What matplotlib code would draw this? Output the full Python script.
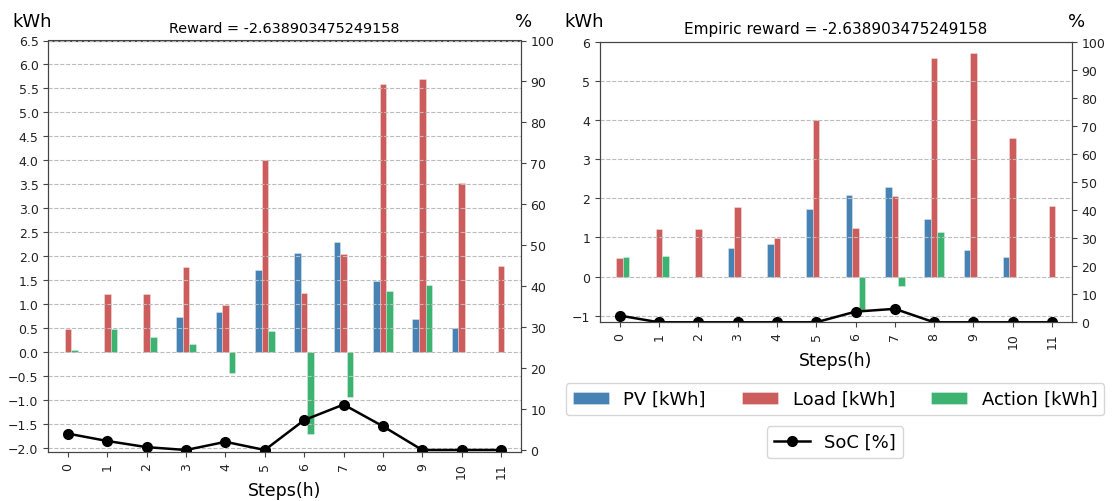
import numpy as np
import matplotlib.pyplot as plt

# data
steps = np.arange(12)
pv = [0, 0, 0, 0.73, 0.84, 1.72, 2.08, 2.30, 1.48, 0.69, 0.51, 0]
load = [0.48, 1.21, 1.22, 1.78, 0.99, 4.00, 1.23, 2.05, 5.59, 5.70, 3.54, 1.81]
action_left = [0.05, 0.48, 0.33, 0.17, -0.43, 0.44, -1.70, -0.92, 1.27, 1.41, 0, 0]
soc_left = [4.0, 2.2, 0.7, 0.0, 2.0, 0.0, 7.3, 11.1, 5.8, 0, 0, 0]
action_right = [0.49, 0.52, 0, 0, 0, 0, -0.85, -0.23, 1.13, 0, 0, 0]
soc_right = [2.4, 0, 0, 0, 0, 0, 3.8, 4.8, 0, 0, 0, 0]

titles = ["Reward = -2.638903475249158", "Empiric reward = -2.638903475249158"]
labels = ["PV [kWh]", "Load [kWh]", "Action [kWh]"]
colors = ["steelblue", "indianred", "mediumseagreen"]

W, H = 1114, 502
fig = plt.figure(figsize=(W / 100, H / 100), dpi=100)


def px_axes(x0, x1, y0, y1):
    return fig.add_axes([x0 / W, 1 - y1 / H, (x1 - x0) / W, (y1 - y0) / H])


def panel(ax, action, soc, title, ylim, yticks, ylim2, tsize):
    w = 0.5 / 3
    bars = []
    for off, vals, c, lab in zip([-w, 0, w], [pv, load, action], colors, labels):
        b = ax.bar(steps + off, vals, w, color=c, edgecolor=(1, 1, 1, 0.45),
                   linewidth=0.5, label=lab)
        bars.append(b)
    ax.set_xlim(-0.5, 11.5)
    ax.set_ylim(*ylim)
    ax.set_yticks(yticks)
    ax.set_xticks(steps)
    ax.set_xticklabels([str(s) for s in steps], rotation=90)
    ax.grid(axis="y", linestyle="--", color="#bbbbbb", linewidth=0.8)
    ax.set_axisbelow(False)
    ax.set_title(title, fontsize=tsize, pad=6)
    ax.set_xlabel("Steps(h)", fontsize=12.5, labelpad=2)
    ax2 = ax.twinx()
    line, = ax2.plot(steps, soc, color="black", marker="o", markersize=7,
                     linewidth=1.8, label="SoC [%]")
    ax2.set_ylim(*ylim2)
    ax2.set_yticks(np.arange(0, 101, 10))
    for a in (ax, ax2):
        for s in a.spines.values():
            s.set_color("#444444")
        a.tick_params(colors="#444444", labelcolor="#222222", labelsize=9)
    return bars, line


ax1 = px_axes(48.3, 520.7, 41.5, 453.3)
panel(ax1, action_left, soc_left, titles[0], (-2.083, 6.5),
      np.arange(-2, 6.51, 0.5), (-0.56, 100), 10.4)

ax3 = px_axes(600, 1071.7, 42.7, 323.3)
bars, line = panel(ax3, action_right, soc_right, titles[1], (-1.17, 6),
                   np.arange(-1, 7, 1), (0, 100), 11)

fig.text(12.5 / W, 1 - 27 / H, "kWh", fontsize=13, va="baseline")
fig.text(515 / W, 1 - 27 / H, "%", fontsize=13, va="baseline")
fig.text(564 / W, 1 - 27 / H, "kWh", fontsize=13, va="baseline")
fig.text(1068 / W, 1 - 27 / H, "%", fontsize=13, va="baseline")

fig.legend(handles=bars, labels=labels, ncol=3, loc="upper center",
           bbox_to_anchor=(835 / W, 1 - 384 / H), fontsize=13,
           borderaxespad=0)
fig.legend(handles=[line], labels=["SoC [%]"], loc="upper center",
           bbox_to_anchor=(835 / W, 1 - 427 / H), fontsize=13,
           borderaxespad=0)

fig.savefig("out.png", dpi=100)
